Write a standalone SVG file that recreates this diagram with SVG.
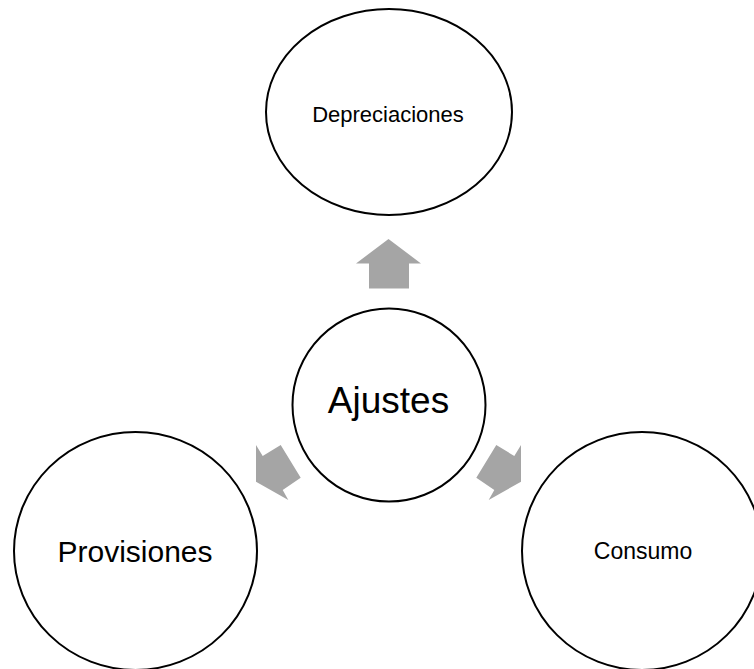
<svg xmlns="http://www.w3.org/2000/svg" width="754" height="669" viewBox="0 0 754 669">
<style>
.node{fill:#ffffff;stroke:#000000;stroke-width:2}
.lbl{font-family:"Liberation Sans",Arial,sans-serif;fill:#000000;text-anchor:middle}
.arr{fill:#A5A5A5;stroke:none}
</style>
<rect width="754" height="669" fill="#ffffff"/>
<g id="connectors">
<polygon class="arr" points="388.5,239 421,263.5 409,263.5 409,288.5 369,288.5 369,263.5 356,263.5"/>
<polygon class="arr" points="256,445 262.7,456 280.7,445 300.7,477.7 282.7,490 288.3,500 256,481.7"/>
<polygon class="arr" points="521,445 514.3,456 496.3,445 476.3,477.7 494.3,490 488.7,500 521,481.7"/>
</g>
<g id="depreciaciones">
<ellipse class="node" cx="389" cy="112" rx="123" ry="103"/>
<text class="lbl" x="388" y="122" font-size="22">Depreciaciones</text>
</g>
<g id="ajustes">
<circle class="node" cx="389" cy="405" r="96.5"/>
<text class="lbl" x="388.5" y="413" font-size="37">Ajustes</text>
</g>
<g id="provisiones">
<ellipse class="node" cx="135.5" cy="551" rx="121.5" ry="119"/>
<text class="lbl" x="135" y="562" font-size="30">Provisiones</text>
</g>
<g id="consumo">
<ellipse class="node" cx="642" cy="551" rx="120" ry="119"/>
<text class="lbl" x="643" y="559" font-size="23">Consumo</text>
</g>
</svg>
